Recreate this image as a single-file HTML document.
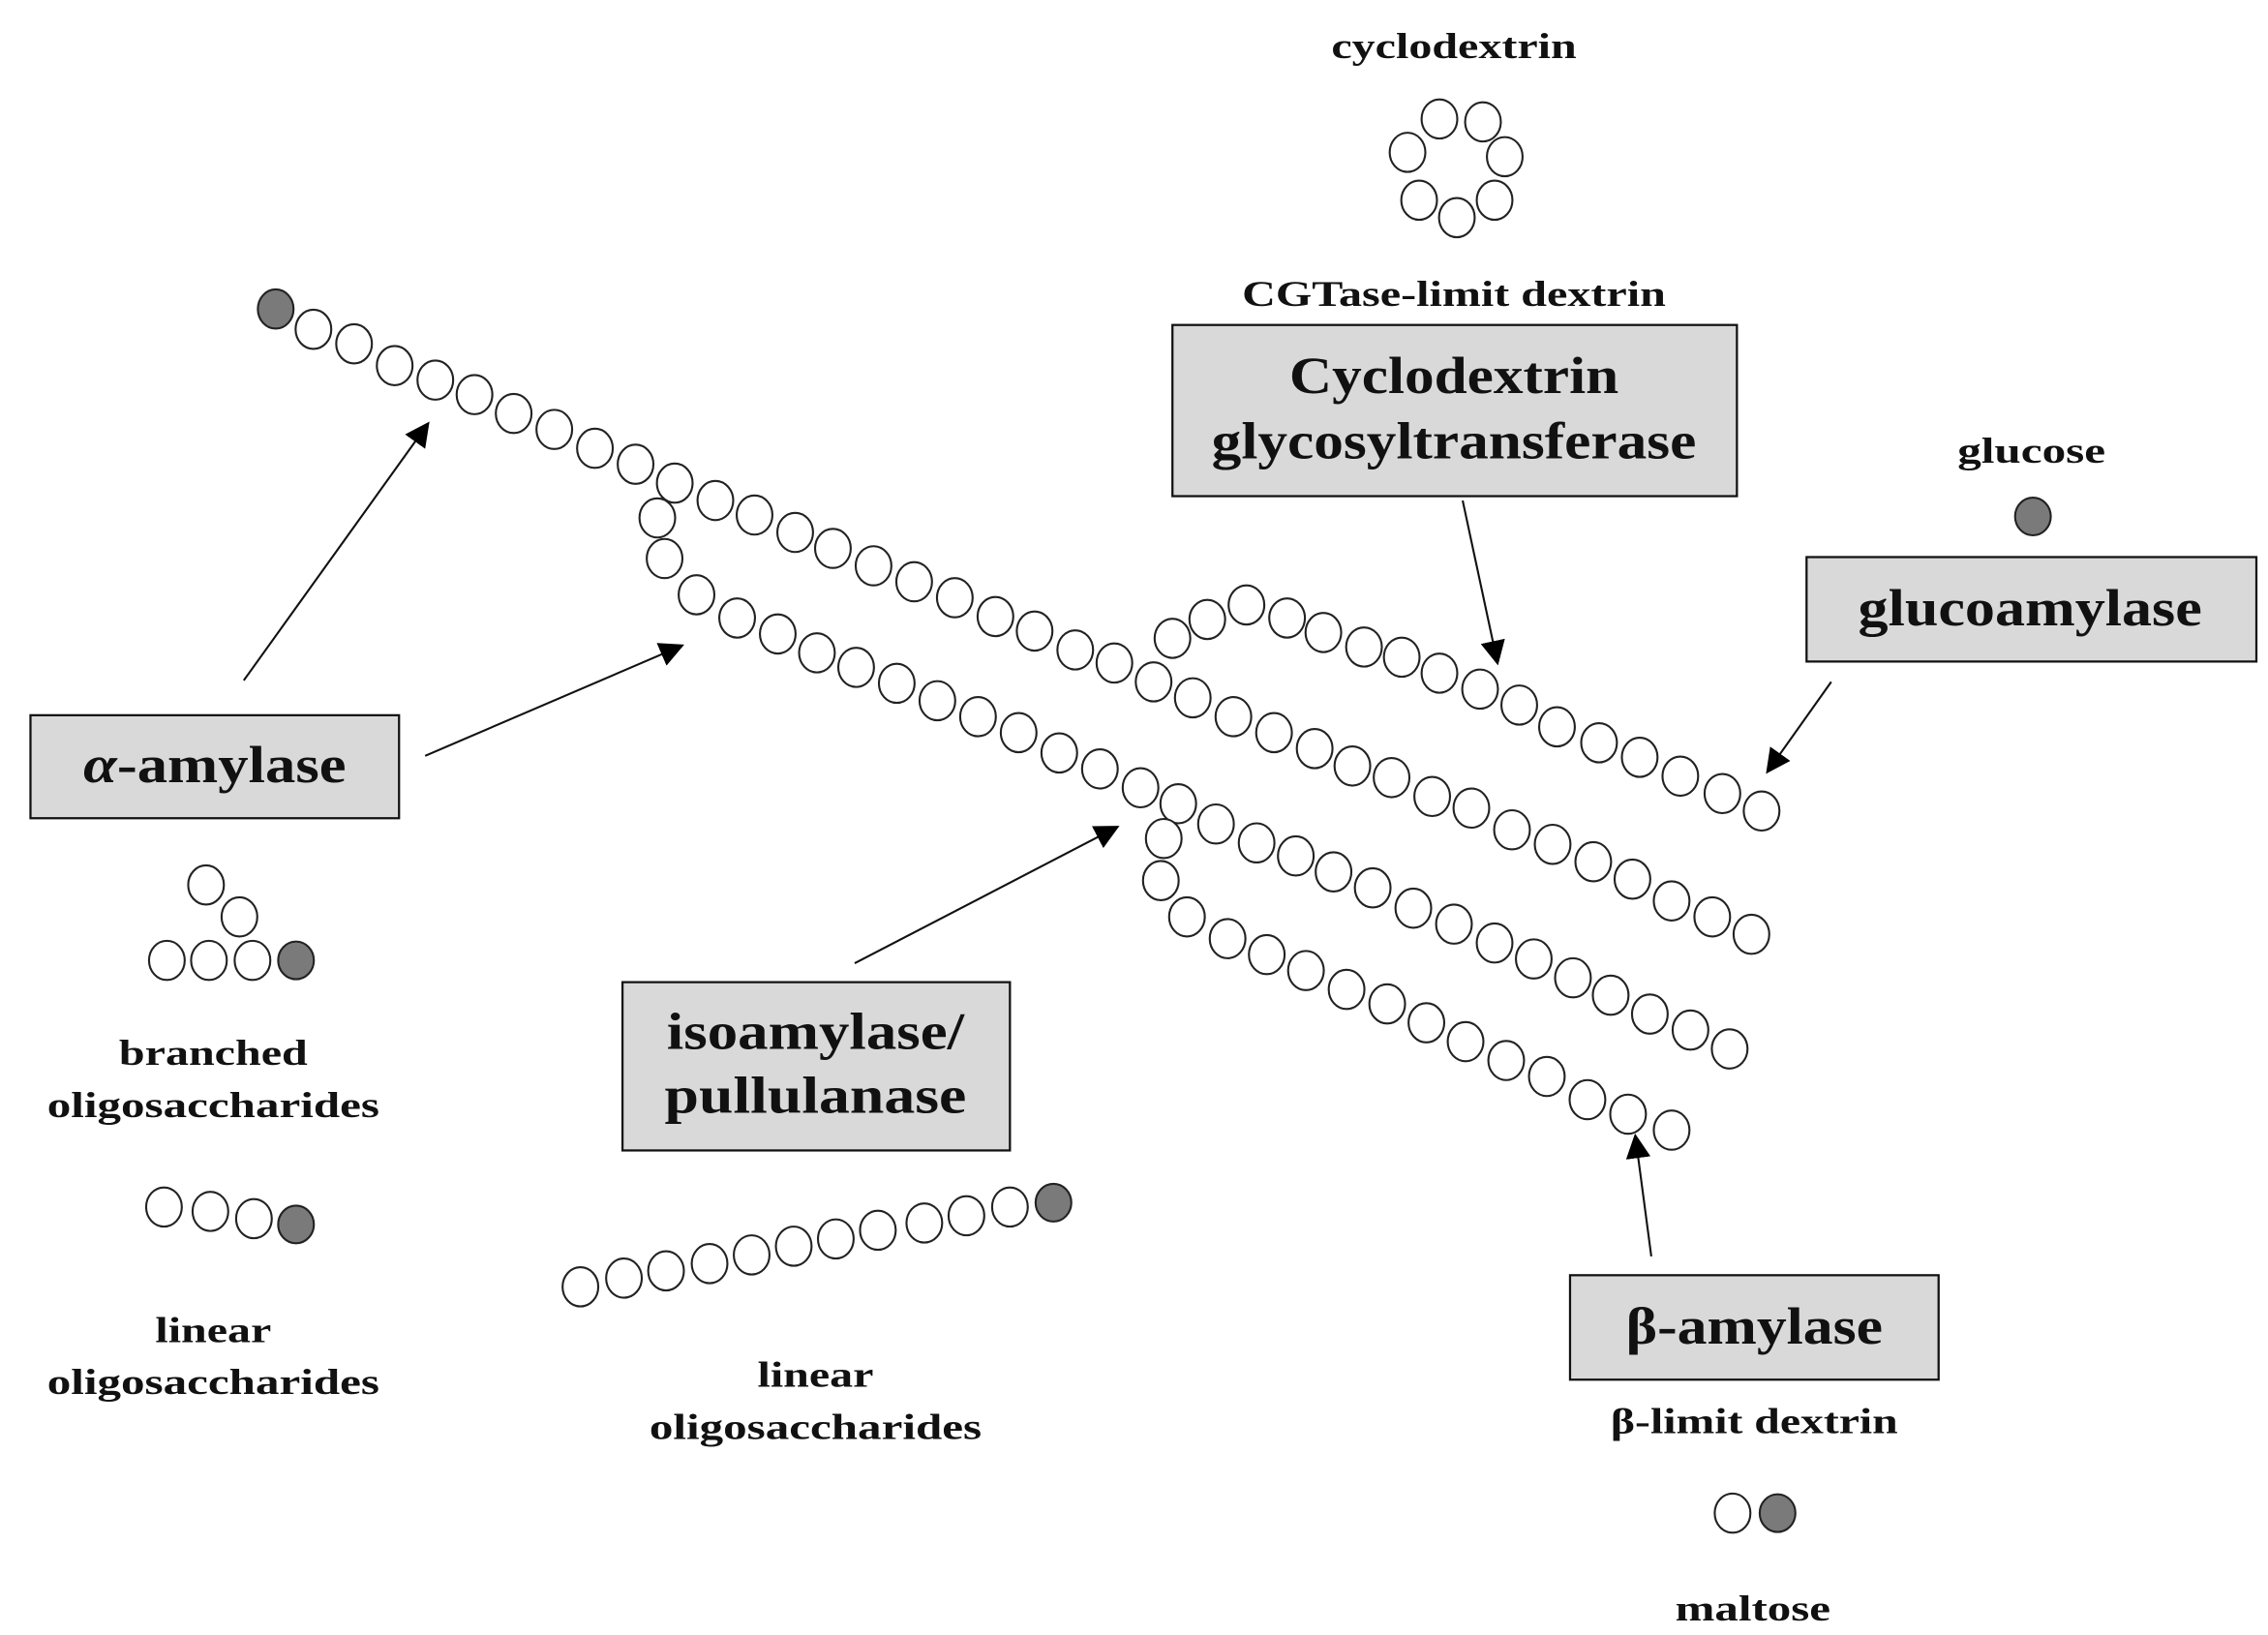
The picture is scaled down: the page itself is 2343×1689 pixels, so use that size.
<!DOCTYPE html>
<html><head><meta charset="utf-8"><style>
html,body{margin:0;padding:0;background:#fff;}
svg{display:block;}
text{font-family:"Liberation Serif",serif;font-weight:bold;fill:#111;text-anchor:middle;}
.s{font-size:25px;}
.b{font-size:36px;}
.c{fill:#fff;stroke:#222;stroke-width:1.4;}
.g{fill:#7a7a7a;stroke:#222;stroke-width:1.4;}
.box{fill:#d9d9d9;stroke:#111;stroke-width:1.5;}
.ar{stroke:#111;stroke-width:1.4;fill:none;}
</style></head><body>
<svg width="2343" height="1689" viewBox="0 0 1563 1127" preserveAspectRatio="none" xmlns="http://www.w3.org/2000/svg">
<defs>
<marker id="m" viewBox="0 0 10 10" refX="9" refY="5" markerWidth="17" markerHeight="17" markerUnits="userSpaceOnUse" orient="auto"><path d="M0,0 L10,5 L0,10 z" fill="#000"/></marker>
<ellipse id="o" class="c" rx="12.3" ry="13.5"/>
</defs>

<!-- chain 1 -->
<ellipse class="g" cx="190" cy="213" rx="12.3" ry="13.5"/>
<g>
<use href="#o" x="216" y="227"/><use href="#o" x="244" y="237"/><use href="#o" x="272" y="252"/><use href="#o" x="300" y="262"/><use href="#o" x="327" y="272"/><use href="#o" x="354" y="285"/><use href="#o" x="382" y="296"/><use href="#o" x="410" y="309"/><use href="#o" x="438" y="320"/><use href="#o" x="465" y="333"/><use href="#o" x="493" y="345"/><use href="#o" x="520" y="355"/><use href="#o" x="548" y="367"/><use href="#o" x="574" y="378"/><use href="#o" x="602" y="390"/><use href="#o" x="630" y="401"/><use href="#o" x="658" y="412"/><use href="#o" x="686" y="425"/><use href="#o" x="713" y="435"/><use href="#o" x="741" y="448"/><use href="#o" x="768" y="457"/><use href="#o" x="795" y="470"/><use href="#o" x="822" y="481"/><use href="#o" x="850" y="494"/><use href="#o" x="878" y="505"/><use href="#o" x="906" y="516"/><use href="#o" x="932" y="528"/><use href="#o" x="959" y="536"/><use href="#o" x="987" y="549"/><use href="#o" x="1014" y="557"/><use href="#o" x="1042" y="572"/><use href="#o" x="1070" y="582"/><use href="#o" x="1098" y="594"/><use href="#o" x="1125" y="606"/><use href="#o" x="1152" y="621"/><use href="#o" x="1180" y="632"/><use href="#o" x="1207" y="644"/>
<!-- upper branch -->
<use href="#o" x="808" y="440"/><use href="#o" x="832" y="427"/><use href="#o" x="859" y="417"/><use href="#o" x="887" y="426"/><use href="#o" x="912" y="436"/><use href="#o" x="940" y="446"/><use href="#o" x="966" y="453"/><use href="#o" x="992" y="464"/><use href="#o" x="1020" y="475"/><use href="#o" x="1047" y="486"/><use href="#o" x="1073" y="501"/><use href="#o" x="1102" y="512"/><use href="#o" x="1130" y="522"/><use href="#o" x="1158" y="535"/><use href="#o" x="1187" y="547"/><use href="#o" x="1214" y="559"/>
<!-- chain 2 -->
<use href="#o" x="453" y="357"/><use href="#o" x="458" y="385"/><use href="#o" x="480" y="410"/><use href="#o" x="508" y="426"/><use href="#o" x="536" y="437"/><use href="#o" x="563" y="450"/><use href="#o" x="590" y="460"/><use href="#o" x="618" y="471"/><use href="#o" x="646" y="483"/><use href="#o" x="674" y="494"/><use href="#o" x="702" y="505"/><use href="#o" x="730" y="519"/><use href="#o" x="758" y="530"/><use href="#o" x="786" y="543"/><use href="#o" x="812" y="554"/><use href="#o" x="838" y="568"/><use href="#o" x="866" y="581"/><use href="#o" x="893" y="590"/><use href="#o" x="919" y="601"/><use href="#o" x="946" y="612"/><use href="#o" x="974" y="626"/><use href="#o" x="1002" y="637"/><use href="#o" x="1030" y="650"/><use href="#o" x="1057" y="661"/><use href="#o" x="1084" y="674"/><use href="#o" x="1110" y="686"/><use href="#o" x="1137" y="699"/><use href="#o" x="1165" y="710"/><use href="#o" x="1192" y="723"/>
<!-- chain 4 -->
<use href="#o" x="802" y="578"/><use href="#o" x="800" y="607"/><use href="#o" x="818" y="632"/><use href="#o" x="846" y="647"/><use href="#o" x="873" y="658"/><use href="#o" x="900" y="669"/><use href="#o" x="928" y="682"/><use href="#o" x="956" y="692"/><use href="#o" x="983" y="705"/><use href="#o" x="1010" y="718"/><use href="#o" x="1038" y="731"/><use href="#o" x="1066" y="742"/><use href="#o" x="1094" y="758"/><use href="#o" x="1122" y="768"/><use href="#o" x="1152" y="779"/>
<!-- cyclodextrin ring -->
<use href="#o" x="992" y="82"/><use href="#o" x="1022" y="84"/><use href="#o" x="1037" y="108"/><use href="#o" x="1030" y="138"/><use href="#o" x="1004" y="150"/><use href="#o" x="978" y="138"/><use href="#o" x="970" y="105"/>
<!-- branched -->
<use href="#o" x="142" y="610"/><use href="#o" x="165" y="632"/><use href="#o" x="115" y="662"/><use href="#o" x="144" y="662"/><use href="#o" x="174" y="662"/>
<!-- linear left -->
<use href="#o" x="113" y="832"/><use href="#o" x="145" y="835"/><use href="#o" x="175" y="840"/>
<!-- linear bottom -->
<use href="#o" x="400" y="887"/><use href="#o" x="430" y="881"/><use href="#o" x="459" y="876"/><use href="#o" x="489" y="871"/><use href="#o" x="518" y="865"/><use href="#o" x="547" y="859"/><use href="#o" x="576" y="854"/><use href="#o" x="605" y="848"/><use href="#o" x="637" y="843"/><use href="#o" x="666" y="838"/><use href="#o" x="696" y="832"/>
<use href="#o" x="1194" y="1043"/>
</g>
<ellipse class="g" cx="1401" cy="356" rx="12.3" ry="13"/>
<ellipse class="g" cx="204" cy="662" rx="12.3" ry="13"/>
<ellipse class="g" cx="204" cy="844" rx="12.3" ry="13"/>
<ellipse class="g" cx="726" cy="829" rx="12.3" ry="13"/>
<ellipse class="g" cx="1225" cy="1043" rx="12.3" ry="13"/>

<!-- arrows -->
<line class="ar" x1="168" y1="469" x2="295" y2="292" marker-end="url(#m)"/>
<line class="ar" x1="293" y1="521" x2="470" y2="445" marker-end="url(#m)"/>
<line class="ar" x1="589" y1="664" x2="770" y2="570" marker-end="url(#m)"/>
<line class="ar" x1="1008" y1="345" x2="1032" y2="457" marker-end="url(#m)"/>
<line class="ar" x1="1262" y1="470" x2="1218" y2="532" marker-end="url(#m)"/>
<line class="ar" x1="1138" y1="866" x2="1127" y2="783" marker-end="url(#m)"/>

<!-- boxes -->
<rect class="box" x="21" y="493" width="254" height="71"/>
<rect class="box" x="808" y="224" width="389" height="118"/>
<rect class="box" x="1245" y="384" width="310" height="72"/>
<rect class="box" x="429" y="677" width="267" height="116"/>
<rect class="box" x="1082" y="879" width="254" height="72"/>

<text class="b" x="148" y="539" textLength="181" lengthAdjust="spacingAndGlyphs"><tspan font-style="italic">α</tspan>-amylase</text>
<text class="b" x="1002" y="271" textLength="227" lengthAdjust="spacingAndGlyphs">Cyclodextrin</text>
<text class="b" x="1002" y="316" textLength="334" lengthAdjust="spacingAndGlyphs">glycosyltransferase</text>
<text class="b" x="1399" y="431" textLength="237" lengthAdjust="spacingAndGlyphs">glucoamylase</text>
<text class="b" x="562" y="723" textLength="205" lengthAdjust="spacingAndGlyphs">isoamylase/</text>
<text class="b" x="562" y="767" textLength="208" lengthAdjust="spacingAndGlyphs">pullulanase</text>
<text class="b" x="1209" y="926" textLength="177" lengthAdjust="spacingAndGlyphs">β-amylase</text>

<text class="s" x="1002" y="40" textLength="169" lengthAdjust="spacingAndGlyphs">cyclodextrin</text>
<text class="s" x="1002" y="211" textLength="292" lengthAdjust="spacingAndGlyphs">CGTase-limit dextrin</text>
<text class="s" x="1400" y="319" textLength="102" lengthAdjust="spacingAndGlyphs">glucose</text>
<text class="s" x="147" y="734" textLength="130" lengthAdjust="spacingAndGlyphs">branched</text>
<text class="s" x="147" y="770" textLength="229" lengthAdjust="spacingAndGlyphs">oligosaccharides</text>
<text class="s" x="147" y="925" textLength="80" lengthAdjust="spacingAndGlyphs">linear</text>
<text class="s" x="147" y="961" textLength="229" lengthAdjust="spacingAndGlyphs">oligosaccharides</text>
<text class="s" x="562" y="956" textLength="80" lengthAdjust="spacingAndGlyphs">linear</text>
<text class="s" x="562" y="992" textLength="229" lengthAdjust="spacingAndGlyphs">oligosaccharides</text>
<text class="s" x="1209" y="988" textLength="198" lengthAdjust="spacingAndGlyphs">β-limit dextrin</text>
<text class="s" x="1208" y="1117" textLength="107" lengthAdjust="spacingAndGlyphs">maltose</text>
</svg>
</body></html>
